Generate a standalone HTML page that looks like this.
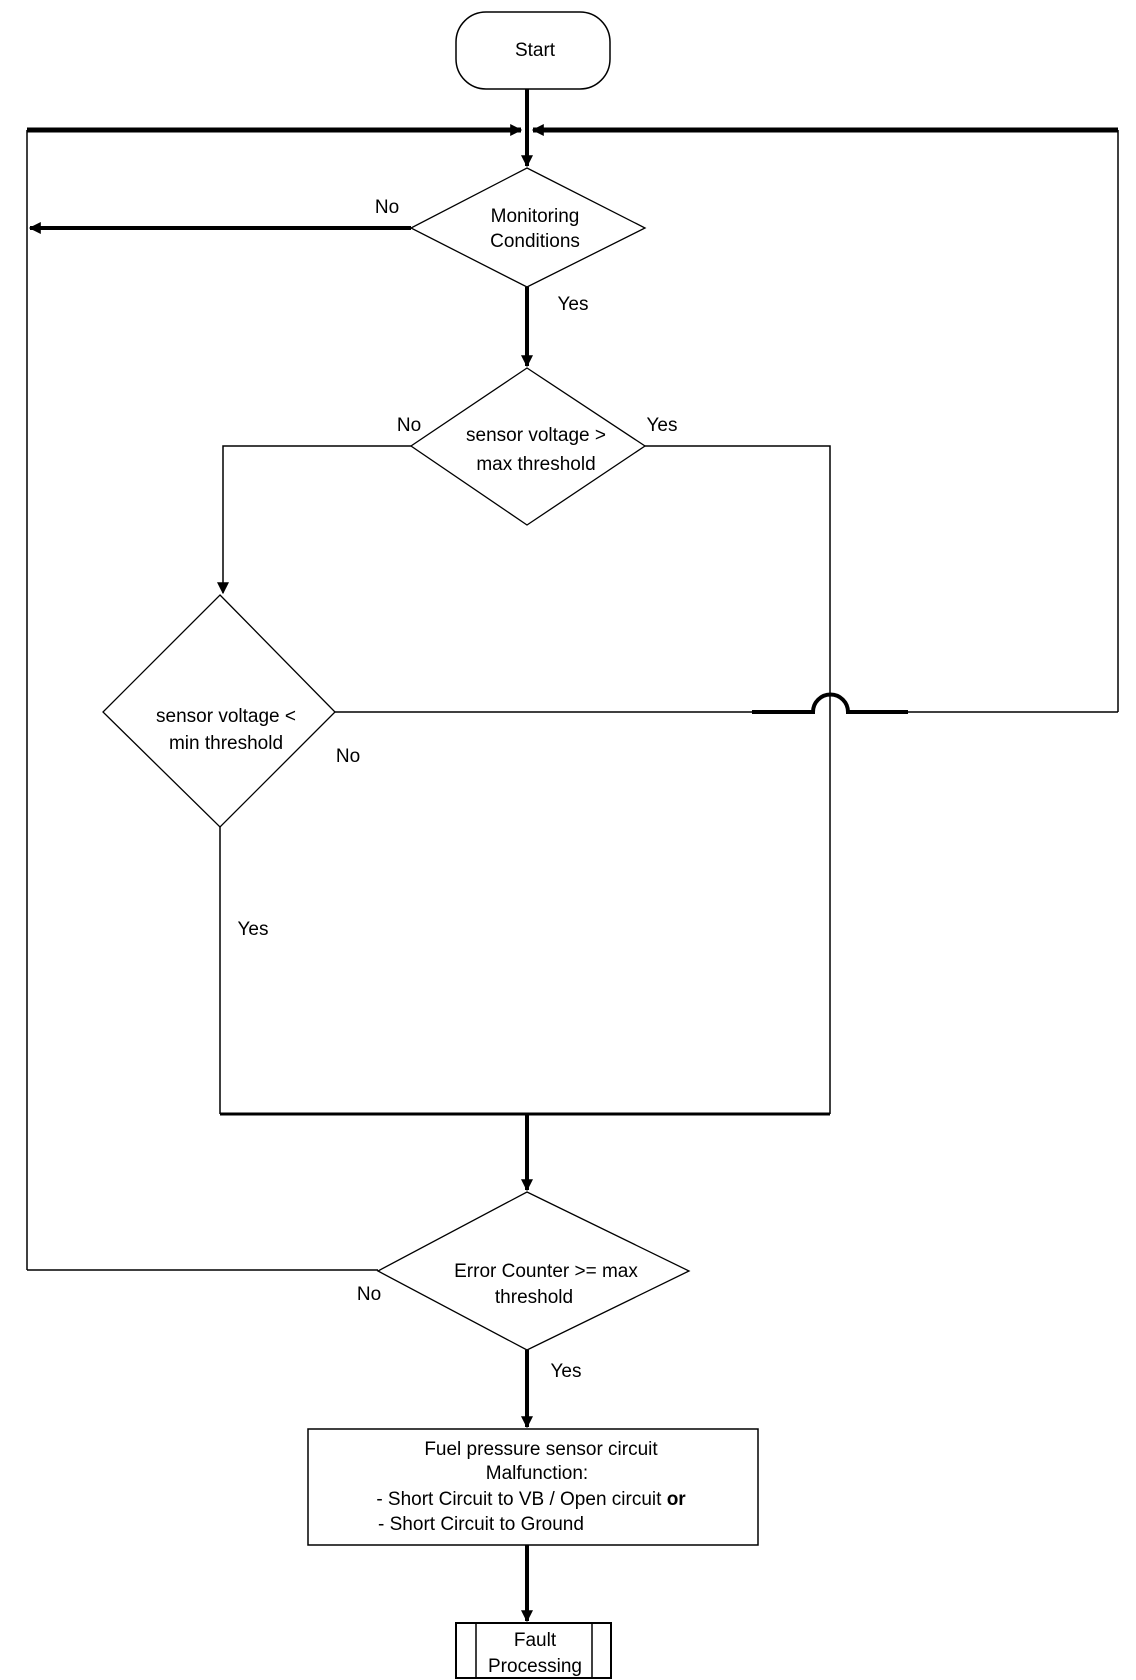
<!DOCTYPE html>
<html><head><meta charset="utf-8"><style>html,body{margin:0;padding:0;background:#fff}svg{display:block}</style></head>
<body>
<svg width="1136" height="1680" viewBox="0 0 1136 1680" xmlns="http://www.w3.org/2000/svg" font-family="Liberation Sans, sans-serif" font-size="19" fill="none" stroke="#000">
<defs><marker id="a" viewBox="0 0 10 10" refX="9" refY="5" markerWidth="12" markerHeight="12" markerUnits="userSpaceOnUse" orient="auto"><path d="M0,0L10,5L0,10z" fill="#000" stroke="none"/></marker></defs>
<rect x="456" y="12" width="154" height="77" rx="30" stroke-width="1.5"/>
<line x1="527" y1="89" x2="527" y2="166" stroke-width="4" marker-end="url(#a)"/>
<line x1="27" y1="130" x2="521" y2="130" stroke-width="5" marker-end="url(#a)"/>
<line x1="1118" y1="130" x2="533" y2="130" stroke-width="5" marker-end="url(#a)"/>
<line x1="27" y1="130" x2="27" y2="1270" stroke-width="1.5"/>
<line x1="1118" y1="130" x2="1118" y2="712" stroke-width="1.5"/>
<polygon points="527,168 645,228 527,287 411,228" stroke-width="1.3"/>
<line x1="411" y1="228" x2="30" y2="228" stroke-width="4" marker-end="url(#a)"/>
<line x1="527" y1="287" x2="527" y2="366" stroke-width="4" marker-end="url(#a)"/>
<polygon points="527,368 645,446 527,525 411,446" stroke-width="1.3"/>
<polyline points="411,446 223,446 223,593" stroke-width="1.5" marker-end="url(#a)"/>
<polyline points="645,446 830,446 830,1114" stroke-width="1.5"/>
<polygon points="220,595 335,712 220,827 103,712" stroke-width="1.3"/>
<path d="M335,712 L813,712 A17,17 0 0 1 848,712 L1118,712" stroke-width="1.5"/>
<path d="M752,712 L813,712 A17,17 0 0 1 848,712 L908,712" stroke-width="4"/>
<line x1="220" y1="827" x2="220" y2="1114" stroke-width="1.5"/>
<line x1="220" y1="1114" x2="830" y2="1114" stroke-width="3"/>
<line x1="527" y1="1114" x2="527" y2="1190" stroke-width="4" marker-end="url(#a)"/>
<polygon points="527,1192 689,1271 527,1350 378,1271" stroke-width="1.3"/>
<line x1="378" y1="1270" x2="27" y2="1270" stroke-width="1.5"/>
<line x1="527" y1="1350" x2="527" y2="1427" stroke-width="4" marker-end="url(#a)"/>
<rect x="308" y="1429" width="450" height="116" stroke-width="1.5"/>
<line x1="527" y1="1545" x2="527" y2="1621" stroke-width="4" marker-end="url(#a)"/>
<rect x="456" y="1623" width="155" height="55" stroke-width="2"/>
<line x1="476" y1="1623" x2="476" y2="1678" stroke-width="1.5"/>
<line x1="592" y1="1623" x2="592" y2="1678" stroke-width="1.5"/>
<g fill="#000" stroke="none" text-anchor="middle">
<text x="535" y="56">Start</text>
<text x="535" y="222">Monitoring</text>
<text x="535" y="247">Conditions</text>
<text x="536" y="441">sensor voltage &gt;</text>
<text x="536" y="470">max threshold</text>
<text x="226" y="722">sensor voltage &lt;</text>
<text x="226" y="749">min threshold</text>
<text x="546" y="1277">Error Counter &gt;= max</text>
<text x="534" y="1303">threshold</text>
<text x="541" y="1455">Fuel pressure sensor circuit</text>
<text x="537" y="1479">Malfunction:</text>
<text x="531" y="1505">- Short Circuit to VB / Open circuit <tspan font-weight="bold">or</tspan></text>
<text x="481" y="1530">- Short Circuit to Ground</text>
<text x="535" y="1646">Fault</text>
<text x="535" y="1672">Processing</text>
<text x="387" y="213">No</text>
<text x="573" y="310">Yes</text>
<text x="409" y="431">No</text>
<text x="662" y="431">Yes</text>
<text x="348" y="762">No</text>
<text x="253" y="935">Yes</text>
<text x="369" y="1300">No</text>
<text x="566" y="1377">Yes</text>
</g>
</svg>
</body></html>
